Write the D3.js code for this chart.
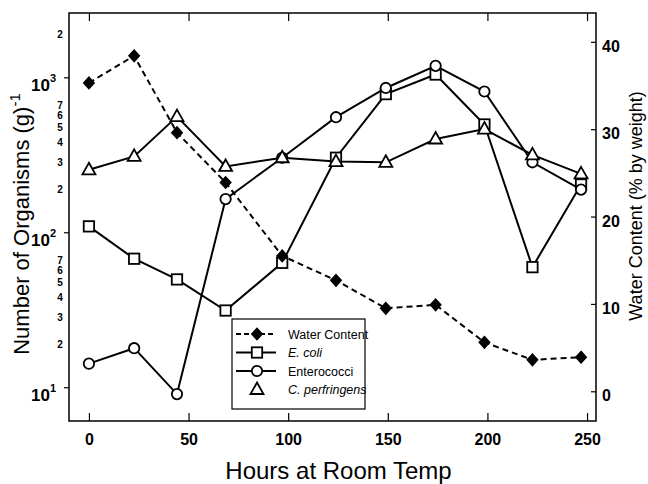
<!DOCTYPE html>
<html>
<head>
<meta charset="utf-8">
<script src="https://cdn.jsdelivr.net/npm/d3@7"></script>
<style>
  body { margin: 0; background: #fff; }
  svg { font-family: "Liberation Sans", Arial, sans-serif; }
</style>
</head>
<body>
<svg id="chart" width="648" height="484"></svg>
<script>
// sampling times (hours at room temp)
const hours = [0, 22.7, 44.2, 68.6, 97, 124, 149, 174, 198.5, 222.6, 247];

// series
const waterContent = [35.3, 38.4, 29.6, 23.9, 15.5, 12.7, 9.5, 9.9, 5.6, 3.6, 3.9];
const eColi = [110, 68, 50, 31.5, 64, 305, 785, 1050, 500, 60, 205];
const enterococci = [14.3, 18, 9.1, 165, 305, 557, 860, 1195, 816, 285, 190];
const perfringens = [255, 311, 562, 268, 305, 288, 285, 403, 467, 318, 240];

// tick labels
const hourTicks = [0, 50, 100, 150, 200, 250];
const waterTicks = [0, 10, 20, 30, 40];
const decades = [10, 100, 1000];
const minorTicks = [20, 30, 40, 50, 60, 70, 200, 300, 400, 500, 600, 700, 2000];

const svg = d3.select("#chart");
const box = {left: 69, right: 596, top: 13, bottom: 421};

// scales
const x = d3.scaleLinear().domain([-10, 254.5]).range([box.left, box.right]);
const yL = d3.scaleLog().domain([6.1, 2620]).range([box.bottom, box.top]);
const yR = d3.scaleLinear().domain([-3.4, 43.3]).range([box.bottom, box.top]);

// frame
svg.append("rect")
  .attr("x", box.left).attr("y", box.top)
  .attr("width", box.right - box.left).attr("height", box.bottom - box.top)
  .attr("fill", "none").attr("stroke", "#000").attr("stroke-width", 1.5);

// bottom axis, ticks inward
const xaxis = svg.append("g")
  .attr("transform", "translate(0," + box.bottom + ")")
  .call(d3.axisBottom(x).tickValues(hourTicks).tickSizeInner(-8).tickSizeOuter(0).tickPadding(13));
xaxis.select(".domain").remove();
xaxis.selectAll("text").attr("font-size", 16).attr("font-weight", "bold").attr("font-family", "Liberation Sans, Arial");
xaxis.selectAll("line").attr("stroke-width", 1.2);

// top ticks
const xtop = svg.append("g")
  .attr("transform", "translate(0," + box.top + ")")
  .call(d3.axisTop(x).tickValues(hourTicks).tickSizeInner(-8).tickSizeOuter(0).tickFormat(""));
xtop.select(".domain").remove();
xtop.selectAll("line").attr("stroke-width", 1.2);

// right axis, water content
const yaxisR = svg.append("g")
  .attr("transform", "translate(" + box.right + ",0)")
  .call(d3.axisRight(yR).tickValues(waterTicks).tickSizeInner(-5).tickSizeOuter(0).tickPadding(6));
yaxisR.select(".domain").remove();
yaxisR.selectAll("text").attr("font-size", 16).attr("font-weight", "bold")
  .attr("font-family", "Liberation Sans, Arial").attr("dy", "0.6em");
yaxisR.selectAll("line").attr("stroke-width", 1.2);

// left log axis, drawn by hand
const yaxisL = svg.append("g").attr("class", "axis axis--y");
yaxisL.selectAll("line.major")
  .data(decades).enter().append("line")
  .attr("class", "major")
  .attr("x1", box.left - 5).attr("x2", box.left)
  .attr("y1", d => yL(d)).attr("y2", d => yL(d))
  .attr("stroke", "#000").attr("stroke-width", 1.2);

const major = yaxisL.selectAll("text.major")
  .data(decades).enter().append("text")
  .attr("class", "major")
  .attr("x", 56).attr("y", d => yL(d) + 13)
  .attr("text-anchor", "end")
  .attr("font-size", 17).attr("font-weight", "bold");
major.append("tspan").text("10");
major.append("tspan").attr("dy", -9).attr("font-size", 11).text(d => Math.round(Math.log10(d)));

yaxisL.selectAll("text.minor")
  .data(minorTicks).enter().append("text")
  .attr("class", "minor")
  .attr("x", 60).attr("y", d => yL(d) + 7)
  .attr("text-anchor", "middle")
  .attr("font-size", 10).attr("font-weight", "bold")
  .text(d => String(d).charAt(0));

// titles
svg.append("text")
  .text("Hours at Room Temp")
  .attr("x", (box.left + box.right) / 2 + 6).attr("y", 479)
  .attr("text-anchor", "middle").attr("font-size", 24);

const ltitle = svg.append("text")
  .attr("transform", "translate(29," + 224 + ")rotate(-90)")
  .attr("text-anchor", "middle").attr("font-size", 22);
ltitle.append("tspan").text("Number of Organisms (g)");
ltitle.append("tspan").attr("dy", -9).attr("font-size", 15).text("-1");

svg.append("text")
  .text("Water Content (% by weight)")
  .attr("transform", "translate(642,206)rotate(-90)")
  .attr("text-anchor", "middle").attr("font-size", 18);

// line generators
const lineL = d3.line().x((d, i) => x(hours[i])).y(d => yL(d));
const lineR = d3.line().x((d, i) => x(hours[i])).y(d => yR(d));

const series = [
  {name: "eColi", values: eColi, shape: "square"},
  {name: "enterococci", values: enterococci, shape: "circle"},
  {name: "perfringens", values: perfringens, shape: "triangle"}
];

svg.append("path")
  .datum(waterContent)
  .attr("d", lineR)
  .attr("fill", "none").attr("stroke", "#000")
  .attr("stroke-width", 2).attr("stroke-dasharray", "6,4");

svg.selectAll("path.series")
  .data(series).enter().append("path")
  .attr("class", "series")
  .attr("d", d => lineL(d.values))
  .attr("fill", "none").attr("stroke", "#000").attr("stroke-width", 2);

// markers
function marker(sel, shape) {
  if (shape === "circle") {
    sel.append("circle").attr("r", 5.2).attr("fill", "#fff");
  } else if (shape === "square") {
    sel.append("rect").attr("x", -5.2).attr("y", -5.2).attr("width", 10.4).attr("height", 10.4).attr("fill", "#fff");
  } else if (shape === "triangle") {
    sel.append("path").attr("d", "M0,-7L6.5,4.5L-6.5,4.5Z").attr("fill", "#fff");
  } else if (shape === "diamond") {
    sel.append("path").attr("d", "M0,-5.5L5,0L0,5.5L-5,0Z").attr("fill", "#000");
  }
  sel.selectAll("*").attr("stroke", "#000").attr("stroke-width", 1.8);
}

series.forEach(s => {
  svg.selectAll("g.m-" + s.name)
    .data(s.values).enter().append("g")
    .attr("class", "m-" + s.name)
    .attr("transform", (d, i) => "translate(" + x(hours[i]) + "," + yL(d) + ")")
    .call(marker, s.shape);
});

svg.selectAll("g.m-water")
  .data(waterContent).enter().append("g")
  .attr("class", "m-water")
  .attr("transform", (d, i) => "translate(" + x(hours[i]) + "," + yR(d) + ")")
  .call(marker, "diamond");

// legend
const legendItems = [
  {label: "Water Content", shape: "diamond", line: "dash", italic: false},
  {label: "E. coli", shape: "square", line: "solid", italic: true},
  {label: "Enterococci", shape: "circle", line: "solid", italic: false},
  {label: "C. perfringens", shape: "triangle", line: "none", italic: true}
];
const legend = svg.append("g").attr("class", "legend");
legend.append("rect")
  .attr("x", 232).attr("y", 319).attr("width", 133).attr("height", 90)
  .attr("fill", "#fff").attr("stroke", "#000").attr("stroke-width", 1.2);

const rows = legend.selectAll("g.row")
  .data(legendItems).enter().append("g")
  .attr("class", "row")
  .attr("transform", (d, i) => "translate(0," + (334 + i * 18.5) + ")");

rows.filter(d => d.line !== "none").append("line")
  .attr("x1", 236).attr("x2", 276)
  .attr("stroke", "#000").attr("stroke-width", 2)
  .attr("stroke-dasharray", d => d.line === "dash" ? "5,3" : null);

rows.each(function(d) {
  d3.select(this).append("g").attr("transform", "translate(257,0)").call(marker, d.shape);
});

rows.append("text")
  .attr("x", 288).attr("y", 4.5)
  .attr("font-size", 12.5)
  .attr("font-style", d => d.italic ? "italic" : "normal")
  .text(d => d.label);
</script>
</body>
</html>
